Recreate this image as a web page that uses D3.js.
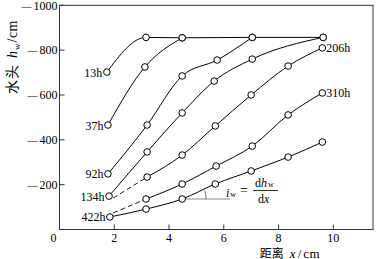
<!DOCTYPE html>
<html>
<head>
<meta charset="utf-8">
<script src="https://cdn.jsdelivr.net/npm/d3@7"></script>
<style>
  body { margin: 0; background: #fff; }
  svg { display: block; font-family: "Liberation Serif", "DejaVu Serif", serif; }
</style>
</head>
<body>
<svg id="chart" width="376" height="259"></svg>
<script>
// tick values
const xTicks = [2, 4, 6, 8, 10];
const yTicks = [-200, -400, -600, -800, -1000];

// one curve per elapsed time: distance x (cm) and water head h_w (cm)
const hours = ['13h', '37h', '92h', '134h', '206h', '310h', '422h'];
const dist = [
  [1.73, 3.16, 4.48, 7.04, 9.63],
  [1.77, 3.12, 4.48],
  [1.77, 3.2, 4.48, 5.76, 7.04],
  [1.81, 3.2, 4.48, 5.65, 7.04, 9.63],
  [3.2, 4.48, 5.69, 7.0, 8.35, 9.6],
  [3.16, 4.48, 5.72, 7.04, 8.35, 9.6],
  [1.84, 3.16, 4.48, 5.69, 7.0, 8.35, 9.6]
];
const head = [
  [-702, -857, -855, -857, -857],
  [-466, -725, -855],
  [-248, -466, -685, -756, -857],
  [-149, -346, -520, -662, -760, -857],
  [-234, -332, -462, -600, -729, -810],
  [-136, -203, -283, -372, -511, -609],
  [-56, -91, -136, -203, -261, -323, -390]
];
// which end of the curve carries its label
const labelSide = ['start', 'start', 'start', 'start', 'end', 'end', 'start'];
// dashed back-extension of the curves that have no left point
const dashFrom = { '206h': [1.96, -140], '310h': [1.96, -74] };

const svg = d3.select('#chart');
const x = d3.scaleLinear().domain([0, 11.45]).range([59.5, 373]);
const y = d3.scaleLinear().domain([0, -1000]).range([229.5, 5.3]);

// frame
svg.append('rect')
  .attr('x', x(0)).attr('y', y(-1000))
  .attr('width', x(11.45) - x(0)).attr('height', y(0) - y(-1000))
  .attr('fill', 'none').attr('stroke', '#333').attr('stroke-width', 1);

// x ticks (inside) and labels
svg.selectAll('.xt').data(xTicks).join('line')
  .attr('x1', d => x(d)).attr('x2', d => x(d))
  .attr('y1', y(0)).attr('y2', y(0) - 5)
  .attr('stroke', '#333');
svg.selectAll('.xl').data(xTicks).join('text')
  .attr('x', d => x(d)).attr('y', 241.5)
  .attr('text-anchor', 'middle').attr('font-size', 12)
  .text(d => d);
svg.append('text').attr('x', x(0) - 6).attr('y', 241.5)
  .attr('text-anchor', 'middle').attr('font-size', 12).text('0');

// y ticks (inside) and labels, long dash as minus sign
svg.selectAll('.yt').data(yTicks).join('line')
  .attr('x1', x(0)).attr('x2', x(0) + 5)
  .attr('y1', d => y(d)).attr('y2', d => y(d))
  .attr('stroke', '#333');
const yl = svg.selectAll('.yl').data(yTicks).join('text')
  .attr('x', x(0) - 2).attr('y', d => y(d) + 4.2)
  .attr('text-anchor', 'end').attr('font-size', 12);
yl.append('tspan').attr('font-size', 10).text('\u2014');
yl.append('tspan').attr('dx', 2).text(d => Math.abs(d));

// axis titles
const yTitle = svg.append('text')
  .attr('transform', 'translate(17,57) rotate(-90)')
  .attr('text-anchor', 'middle').attr('font-size', 14);
yTitle.append('tspan').attr('font-family', '"Noto Sans CJK SC"').attr('letter-spacing', 1).text('水头');
yTitle.append('tspan').attr('dx', 6).attr('font-style', 'italic').text('h');
yTitle.append('tspan').attr('font-size', 9).attr('dx', 1).attr('dy', 3).text('w');
yTitle.append('tspan').attr('dy', -3).attr('dx', 1).attr('letter-spacing', 0.5).text('/cm');

const xTitle = svg.append('text')
  .attr('x', 290).attr('y', 257.5)
  .attr('text-anchor', 'middle').attr('font-size', 13);
xTitle.append('tspan').attr('font-family', '"Noto Sans CJK SC"').attr('font-size', 12).text('距离');
xTitle.append('tspan').attr('dx', 6).attr('font-style', 'italic').text('x');
xTitle.append('tspan').attr('dx', 2).text('/');
xTitle.append('tspan').attr('dx', 2).attr('letter-spacing', 0.5).text('cm');

// curves
const series = hours.map((h, i) => ({
  name: h,
  side: labelSide[i],
  pts: dist[i].map((d, j) => [d, head[i][j]])
}));

const line = d3.line()
  .x(d => x(d[0])).y(d => y(d[1]))
  .curve(d3.curveMonotoneX);

// dashed extensions
Object.keys(dashFrom).forEach(k => {
  const s = series.find(d => d.name === k);
  svg.append('line')
    .attr('x1', x(dashFrom[k][0])).attr('y1', y(dashFrom[k][1]))
    .attr('x2', x(s.pts[0][0])).attr('y2', y(s.pts[0][1]))
    .attr('stroke', '#000').attr('stroke-width', 0.9)
    .attr('stroke-dasharray', '5,3');
});

svg.selectAll('.curve').data(series).join('path')
  .attr('d', d => line(d.pts))
  .attr('fill', 'none').attr('stroke', '#000').attr('stroke-width', 1);

// tangent mark on the 422h curve
const t422 = series[6].pts;
const tx = x(t422[2][0]), ty = y(t422[2][1]);
const ang = Math.atan2(ty - y(t422[3][1]), x(t422[3][0]) - tx) * 0.85;
const r = 24;
svg.append('line')
  .attr('x1', tx).attr('y1', ty).attr('x2', x(6.23)).attr('y2', ty)
  .attr('stroke', '#888').attr('stroke-width', 1);
svg.append('path')
  .attr('d', `M${tx + r},${ty} A${r},${r} 0 0 0 ${tx + r * Math.cos(ang)},${ty - r * Math.sin(ang)}`)
  .attr('fill', 'none').attr('stroke', '#555').attr('stroke-width', 0.8);

// points
series.forEach(s => {
  svg.selectAll(null).data(s.pts).join('circle')
    .attr('cx', d => x(d[0])).attr('cy', d => y(d[1]))
    .attr('r', 3.3)
    .attr('fill', '#fff').attr('stroke', '#000').attr('stroke-width', 1);
});

// curve labels
svg.selectAll('.lab').data(series).join('text')
  .attr('x', d => d.side === 'start' ? x(d.pts[0][0]) - 4.5 : x(d.pts[d.pts.length - 1][0]) + 4)
  .attr('y', d => (d.side === 'start' ? y(d.pts[0][1]) : y(d.pts[d.pts.length - 1][1])) + 4.5)
  .attr('text-anchor', d => d.side === 'start' ? 'end' : 'start')
  .attr('font-size', 12)
  .text(d => d.name);

// i_w = dh_w / dx
const ann = svg.append('g').attr('font-size', 12);
const iw = ann.append('text').attr('x', 226).attr('y', 197);
iw.append('tspan').attr('font-style', 'italic').text('i');
iw.append('tspan').attr('font-size', 8).attr('dx', 1).text('w');
ann.append('text').attr('x', 240).attr('y', 195).attr('font-size', 14).text('=');
const num = ann.append('text').attr('x', 255).attr('y', 187);
num.append('tspan').text('d');
num.append('tspan').attr('font-style', 'italic').text('h');
num.append('tspan').attr('font-size', 8).attr('dx', 1).text('w');
ann.append('line').attr('x1', 253).attr('x2', 278).attr('y1', 190.5).attr('y2', 190.5)
  .attr('stroke', '#000').attr('stroke-width', 0.8);
const den = ann.append('text').attr('x', 258).attr('y', 203);
den.append('tspan').text('d');
den.append('tspan').attr('font-style', 'italic').text('x');
</script>
</body>
</html>
